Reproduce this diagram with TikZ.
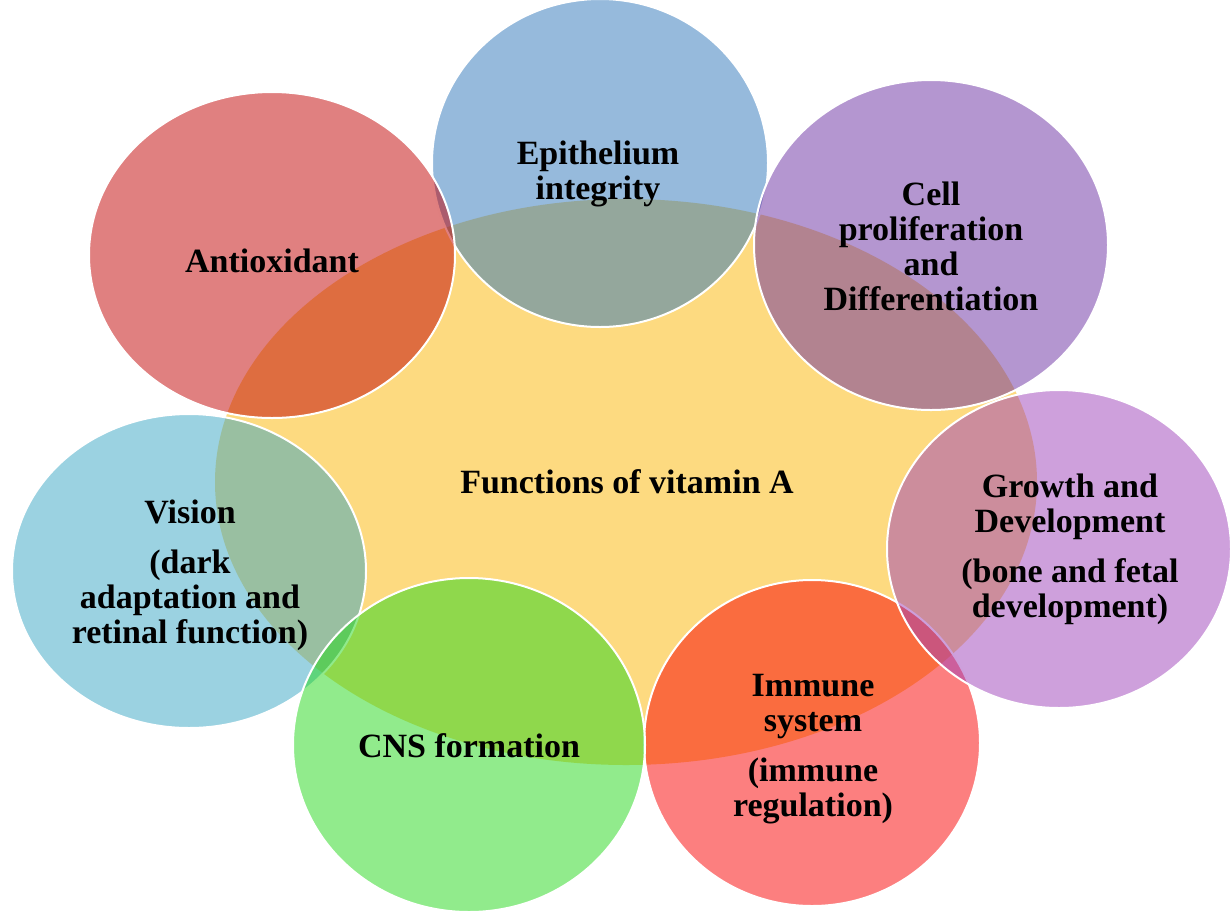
\documentclass[tikz,border=0pt]{standalone}
\usepackage{fontspec}
\setmainfont{Liberation Serif}
\usetikzlibrary{shapes.geometric}

% translucent fills, blended over the yellow core
\definecolor{coreyellow}{RGB}{253,218,128}
\definecolor{oxred}{RGB}{193,1,1}
\definecolor{epiblue}{RGB}{45,117,185}
\definecolor{cellpurple}{RGB}{105,45,161}
\definecolor{growthviolet}{RGB}{157,65,185}
\definecolor{immunered}{RGB}{249,0,0}
\definecolor{cnsgreen}{RGB}{35,215,25}
\definecolor{visionblue}{RGB}{55,165,195}

\tikzset{
  bubble/.style={ellipse, inner sep=0pt, outer sep=0pt, draw=white,
    line width=1pt, fill opacity=0.5, draw opacity=1},
  caption/.style={align=center, font=\bfseries\fontsize{17}{17.5}\selectfont,
    text=black, inner sep=0pt}
}

\begin{document}
\begin{tikzpicture}[x=0.5pt, y=-0.5pt]
  \useasboundingbox (0,0) rectangle (1231,911);

  % central field
  \node[ellipse, inner sep=0pt, fill=coreyellow, minimum width=411pt,
        minimum height=283pt] (core) at (626,482) {};

  % surrounding functions, drawn back to front
  \node[bubble, fill=epiblue, minimum width=168pt, minimum height=164pt]
        (epi) at (600,163) {};
  \node[bubble, fill=oxred, minimum width=183pt, minimum height=163pt]
        (oxi) at (272,255) {};
  \node[bubble, fill=cellpurple, minimum width=177pt, minimum height=165pt]
        (cell) at (931,245) {};
  \node[bubble, fill=immunered, minimum width=168pt, minimum height=163pt]
        (imm) at (812,743) {};
  \node[bubble, fill=growthviolet, minimum width=172pt, minimum height=159pt]
        (grow) at (1059,549) {};
  \node[bubble, fill=visionblue, minimum width=177pt, minimum height=157pt]
        (vis) at (189,571) {};
  \node[bubble, fill=cnsgreen, minimum width=176pt, minimum height=167pt]
        (cns) at (469,745) {};

  % labels
  \node[caption] (coretext) at (627,482) {Functions of vitamin A};
  \node[caption] (epitext) at (598,174) {Epithelium\\integrity};
  \node[caption] (oxitext) at (272,261) {Antioxidant};
  \node[caption] (celltext) at (931,246)
        {Cell\\proliferation\\and\\Differentiation};
  \node[caption] (growtext) at (1070,549)
        {Growth and\\Development\\[7.5pt](bone and fetal\\development)};
  \node[caption] (immtext) at (813,749)
        {Immune\\system\\[7.5pt](immune\\regulation)};
  \node[caption] (cnstext) at (469,746) {CNS formation};
  \node[caption] (vistext) at (190,575)
        {Vision\\[7.5pt](dark\\adaptation and\\retinal function)};
\end{tikzpicture}
\end{document}
